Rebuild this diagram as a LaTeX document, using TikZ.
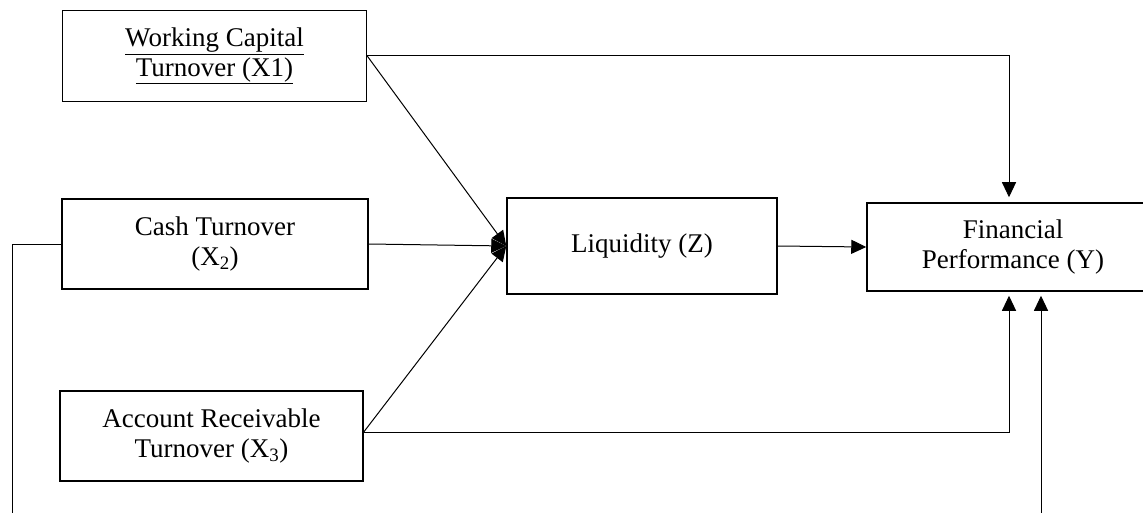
\documentclass[tikz,border=0pt]{standalone}
\usepackage{fontspec}
\setmainfont{Liberation Serif}
\usetikzlibrary{arrows.meta,calc}
\begin{document}
\begin{tikzpicture}[x=1pt,y=-1pt,
  box/.style={draw,line width=1.5pt,rectangle,inner sep=0pt,align=center,
    font=\fontsize{27}{30}\selectfont},
  conn/.style={line width=1pt},
  arr/.style={conn,-{Triangle[length=15pt,width=14pt]}}]
\useasboundingbox (0,0) rectangle (1143,513);
\node[box,minimum width=304pt,minimum height=91pt] (X1) at (214.5,56) {\underline{Working Capital}\\\underline{Turnover (X1)}};
\node[box,minimum width=306pt,minimum height=90pt] (X2) at (215,244) {Cash Turnover\\(X\textsubscript{2})};
\node[box,minimum width=303pt,minimum height=90pt] (X3) at (211.5,436) {Account Receivable\\Turnover (X\textsubscript{3})};
\node[box,minimum width=270pt,minimum height=96pt] (Z) at (642,246) {Liquidity (Z)};
\node[box,minimum width=292pt,minimum height=88pt] (Y) at (1013,247) {Financial\\Performance (Y)};
\coordinate (x3o) at ($(X3.east)+(0,-4)$);
\coordinate (bl) at (12,513);
\coordinate (br) at (1041,513);
\draw[arr] (X1.east) -- (Z.west);
\draw[arr] (X2.east) -- (Z.west);
\draw[arr] (x3o) -- (Z.west);
\draw[arr] (Z.east) -- (Y.west);
\draw[arr,shorten >=5pt] (X1.east) -| ($(Y.north)+(-4,0)$);
\draw[arr,shorten >=4pt] (x3o) -| ($(Y.south)+(-4,0)$);
\draw[conn] (X2.west) -| (bl);
\draw[arr,shorten >=4pt] (br) -- (br |- Y.south);
\end{tikzpicture}
\end{document}
